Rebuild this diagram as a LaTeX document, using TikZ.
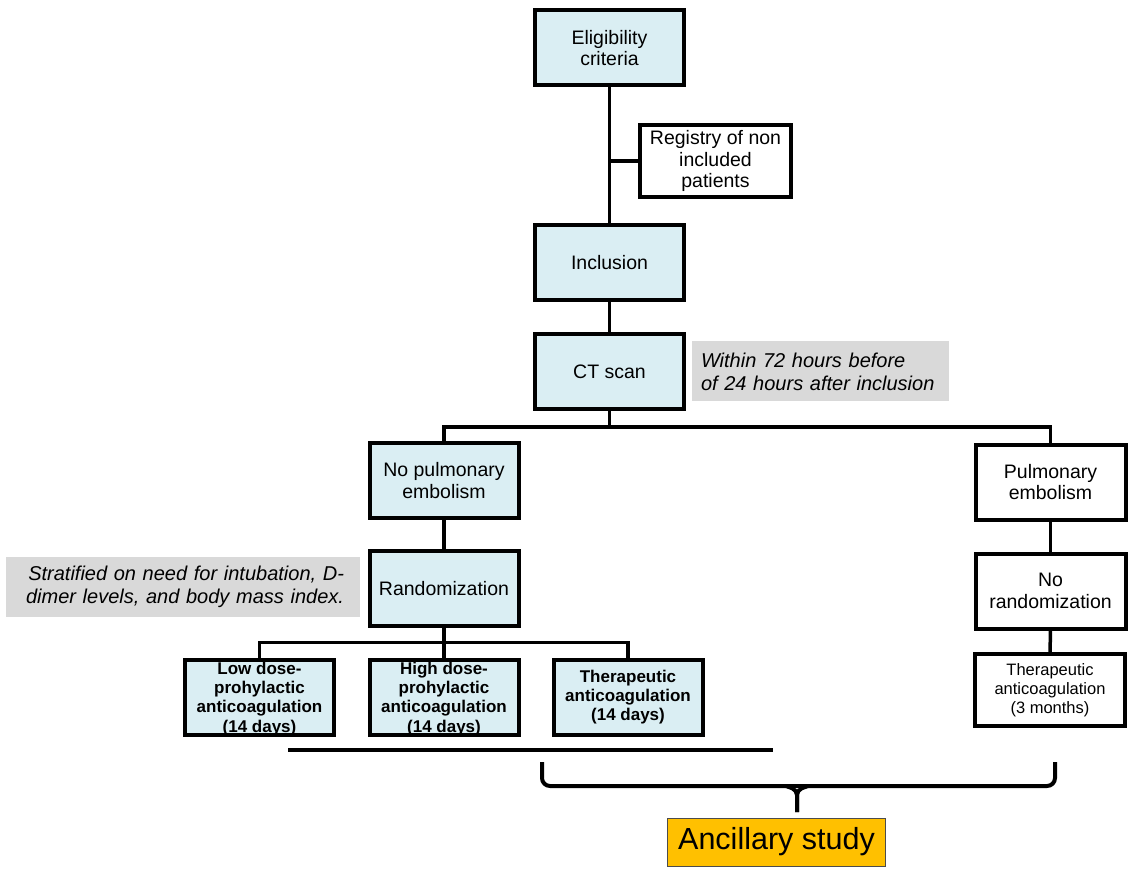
\documentclass[tikz,border=0pt]{standalone}
\usepackage{fontspec}
\setmainfont{Liberation Sans}
\usetikzlibrary{positioning,calc}

\definecolor{boxblue}{HTML}{DAEEF3}
\definecolor{notegray}{HTML}{D9D9D9}
\definecolor{studygold}{HTML}{FFC000}
\hyphenpenalty=10000

\begin{document}
\begin{tikzpicture}[x=1pt,y=-1pt,
  stage/.style={draw, line width=4pt, fill=boxblue, minimum width=149pt, minimum height=75pt,
    inner sep=0pt, align=center, font=\fontsize{19.5}{21.5}\selectfont},
  side/.style={stage, fill=white},
  arm/.style={stage, font=\bfseries\fontsize{17}{19.3}\selectfont},
  note/.style={fill=notegray, inner ysep=0pt, minimum height=60pt,
    font=\itshape\fontsize{20}{23}\selectfont},
  link/.style={line width=3.5pt}]
  \useasboundingbox (0,0) rectangle (1128,877);

  % main column
  \node[stage] (elig) at (609.5,48) {Eligibility\\criteria};
  \node[side, minimum width=151pt, minimum height=72pt] (reg) at (715.5,161) {Registry of non\\included\\patients};
  \node[stage] (incl) at (609.5,263) {Inclusion};
  \node[stage] (ct) at (609.5,371.5) {CT scan};
  \node[note, text width=239pt, inner xsep=9pt, align=left] (window) at (820.5,371.5)
    {Within 72 hours before\\of 24 hours after inclusion};

  % results of the scan
  \node[stage] (nope) at (444,480.5) {No pulmonary\\embolism};
  \node[side, minimum width=150pt] (pe) at (1050.5,482) {Pulmonary\\embolism};
  \node[stage] (rand) at (444,588.5) {Randomization};
  \node[note, text width=322pt, inner xsep=16pt, align=right] (strat) at (183,586.5)
    {Stratified on need for intubation, D-\\dimer levels, and body mass index.};
  \node[side, minimum width=150pt] (norand) at (1050.5,591) {No\\randomization};

  % arms
  \node[arm, text depth=-5pt] (low) at (259.5,697) {Low dose-\\prohylactic\\anticoagulation\\(14 days)};
  \node[arm, text depth=-5pt] (high) at (444,697) {High dose-\\prohylactic\\anticoagulation\\(14 days)};
  \node[arm] (ther) at (628,697) {Therapeutic\\anticoagulation\\(14 days)};
  \node[side, minimum width=150pt, minimum height=72pt, font=\fontsize{16.5}{19}\selectfont] (long) at (1050,690)
    {Therapeutic\\anticoagulation\\(3 months)};

  \node[draw=black!70, line width=1pt, fill=studygold, minimum width=218pt, minimum height=48pt,
    inner sep=0pt, font=\fontsize{30.5}{32}\selectfont] (anc) at (776.5,842) {Ancillary study};

  % connectors
  \draw[link] (elig) -- (incl);
  \draw[link] (elig.south |- reg.west) -- (reg.west);
  \draw[link] (incl) -- (ct);
  \draw[link] (ct.south) -- ++(0,16) coordinate (split);
  \draw[link] (nope.north) |- (split) -| (pe.north);
  \draw[link] (nope) -- (rand);
  \draw[link] (pe) -- (norand);
  \draw[link] (norand) -- (long);
  \draw[link] (rand.south) -- (high.north);
  \draw[link] (low.north) -- ++(0,-15) -| (ther.north);

  % bar and brace
  \coordinate (barL) at (288,750);
  \coordinate (barR) at (773,750);
  \draw[line width=4.5pt] (barL) -- (barR);
  \coordinate (braceL) at (542,762);
  \coordinate (braceR) at (1055,762);
  \coordinate (tip) at (797,812);
  \draw[line width=4pt, rounded corners=8pt] (braceL) -- ++(0,24) -- ($(braceR)+(0,24)$) -- (braceR);
  \draw[line width=4pt, rounded corners=5pt] (786,786) -- (797,790) -- (tip);
  \draw[line width=4pt, rounded corners=5pt] (808,786) -- (797,790) -- (tip);
\end{tikzpicture}
\end{document}
